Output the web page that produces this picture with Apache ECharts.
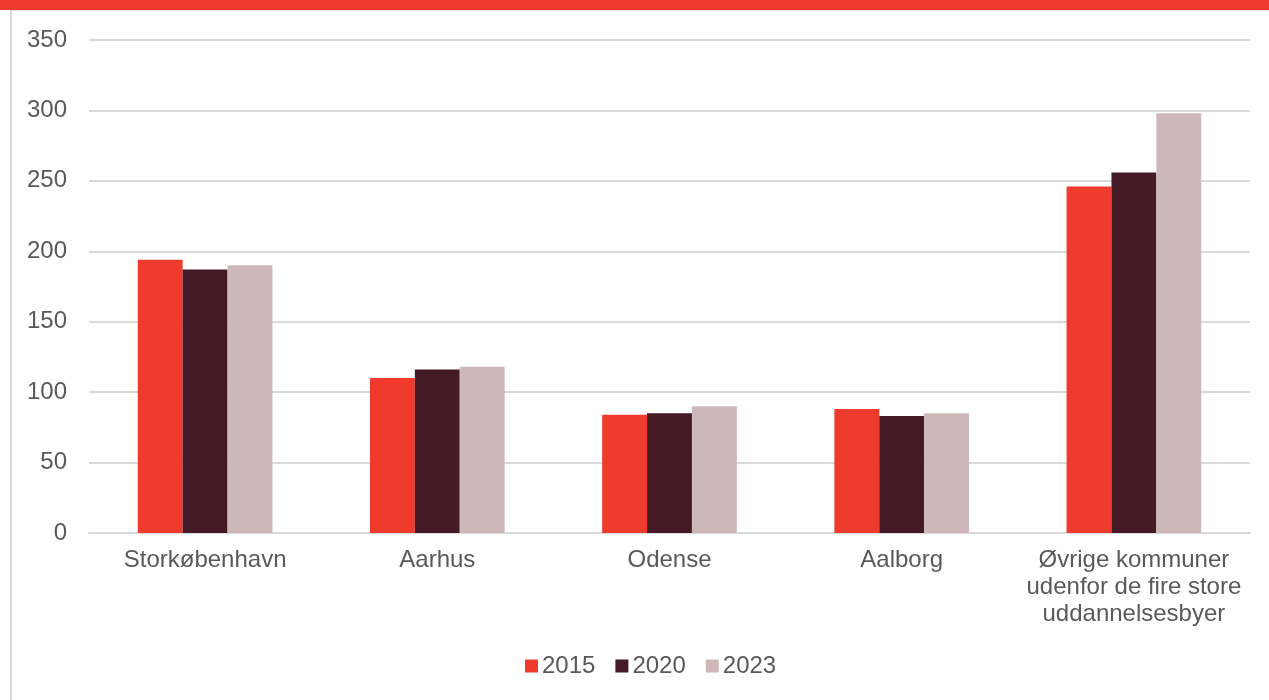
<!DOCTYPE html>
<html>
<head>
<meta charset="utf-8">
<script src="https://cdn.jsdelivr.net/npm/echarts@6/dist/echarts.min.js"></script>
<style>
html,body{margin:0;padding:0;background:#fff;}
#c{width:1269px;height:700px;}
</style>
</head>
<body>
<div id="c"></div>
<script>
const categories = ['Storkøbenhavn', 'Aarhus', 'Odense', 'Aalborg', 'Øvrige kommuner\nudenfor de fire store\nuddannelsesbyer'];
const seriesNames = ['2015', '2020', '2023'];
const values2015 = [194, 110, 84, 88, 246];
const values2020 = [187, 116, 85, 83, 256];
const values2023 = [190, 118, 90, 85, 298];
const colors = ['#EE3B2E', '#431A25', '#CDB7B9'];
const yTicks = { min: 0, max: 350, interval: 50 };

const chart = echarts.init(document.getElementById('c'));
const font = 'Liberation Sans, Arial, sans-serif';
const dataSets = [values2015, values2020, values2023];
chart.setOption({
  animation: false,
  color: colors,
  graphic: [
    { type: 'rect', shape: { x: 0, y: 0, width: 1269, height: 10 }, style: { fill: '#EE3B2E' }, z: 10 },
    { type: 'rect', shape: { x: 10, y: 10, width: 1259, height: 1 }, style: { fill: '#E0E0E0' }, z: 10 },
    { type: 'rect', shape: { x: 10, y: 10, width: 2, height: 690 }, style: { fill: '#D9D9D9' }, z: 10 }
  ],
  grid: { left: 89, right: 19, top: 40, bottom: 167, containLabel: false },
  legend: {
    data: seriesNames,
    top: 654,
    left: 525,
    padding: 0,
    itemWidth: 13,
    itemHeight: 13,
    itemGap: 20,
    icon: 'rect',
    textStyle: { fontFamily: font, fontSize: 24, color: '#595959', padding: [0, 0, 0, -1] }
  },
  xAxis: {
    type: 'category',
    data: categories,
    axisLine: { lineStyle: { color: '#D9D9D9', width: 2 } },
    axisTick: { show: false },
    axisLabel: { fontFamily: font, fontSize: 24, color: '#595959', lineHeight: 27, margin: 14, interval: 0 }
  },
  yAxis: {
    type: 'value',
    min: yTicks.min, max: yTicks.max, interval: yTicks.interval,
    axisLine: { show: false },
    axisTick: { show: false },
    axisLabel: { fontFamily: font, fontSize: 24, color: '#595959', margin: 22 },
    splitLine: { lineStyle: { color: '#D9D9D9', width: 2 } }
  },
  series: seriesNames.map((n, i) => ({
    name: n,
    type: 'bar',
    data: dataSets[i],
    barGap: '0%',
    barCategoryGap: '42%'
  }))
});
</script>
</body>
</html>
